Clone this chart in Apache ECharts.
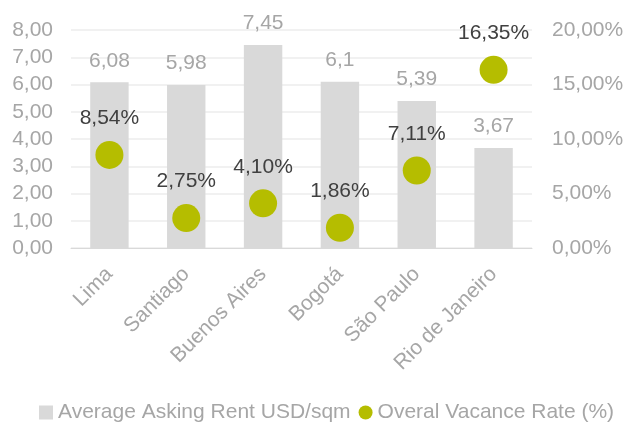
<!DOCTYPE html>
<html>
<head>
<meta charset="utf-8">
<script src="https://cdn.jsdelivr.net/npm/echarts@6/dist/echarts.min.js"></script>
<style>
  html, body { margin: 0; padding: 0; background: #fff; }
  #chart { width: 637px; height: 424px; }
</style>
</head>
<body>
<div id="chart"></div>
<script>
const CITIES = ["Lima", "Santiago", "Buenos Aires", "Bogotá", "São Paulo", "Rio de Janeiro"];
const RENT = [6.08, 5.98, 7.45, 6.1, 5.39, 3.67];
const RENT_LABELS = ["6,08", "5,98", "7,45", "6,1", "5,39", "3,67"];
const VACANCY = [8.54, 2.75, 4.10, 1.86, 7.11, 16.35];

const GRAY = "#a6a6a6";
const FONT = "Liberation Sans, Arial, sans-serif";

function comma(v, d) { return v.toFixed(d).replace(".", ","); }

const chart = echarts.init(document.getElementById("chart"));
chart.setOption({
  animation: false,
  textStyle: { fontFamily: FONT },
  grid: { left: 71, right: 105, top: 30, bottom: 176 },
  legend: {
    bottom: -4,
    left: 34,
    itemWidth: 14,
    itemHeight: 14,
    itemGap: 8,
    textStyle: { color: GRAY, fontSize: 21, fontFamily: FONT },
    data: [
      { name: "Average Asking Rent USD/sqm", icon: "rect" },
      { name: "Overal Vacance Rate (%)", icon: "circle" }
    ]
  },
  xAxis: {
    type: "category",
    data: CITIES,
    axisLine: { lineStyle: { color: "#d9d9d9", width: 1 } },
    axisTick: { show: false },
    axisLabel: { rotate: 45, color: GRAY, fontSize: 21, margin: 23, interval: 0 }
  },
  yAxis: [
    {
      type: "value", min: 0, max: 8, interval: 1,
      axisLabel: { color: GRAY, fontSize: 21, margin: 18, formatter: v => comma(v, 2) },
      splitLine: { lineStyle: { color: "#ececec", width: 1.5 } },
      axisLine: { show: false }, axisTick: { show: false }
    },
    {
      type: "value", min: 0, max: 20, interval: 5,
      axisLabel: { color: GRAY, fontSize: 21, margin: 20, formatter: v => comma(v, 2) + "%" },
      splitLine: { show: false },
      axisLine: { show: false }, axisTick: { show: false }
    }
  ],
  series: [
    {
      name: "Average Asking Rent USD/sqm",
      type: "bar",
      data: RENT,
      barWidth: "50%",
      itemStyle: { color: "#d9d9d9" },
      label: {
        show: true, position: "top", distance: 11, color: GRAY, fontSize: 21,
        formatter: p => RENT_LABELS[p.dataIndex]
      }
    },
    {
      name: "Overal Vacance Rate (%)",
      type: "scatter",
      yAxisIndex: 1,
      data: VACANCY,
      symbolSize: 28,
      itemStyle: { color: "#b5bd00", opacity: 1 },
      label: {
        show: true, position: "top", distance: 12, color: "#404040", fontSize: 21,
        formatter: p => comma(p.value, 2) + "%"
      }
    }
  ]
});
</script>
</body>
</html>
